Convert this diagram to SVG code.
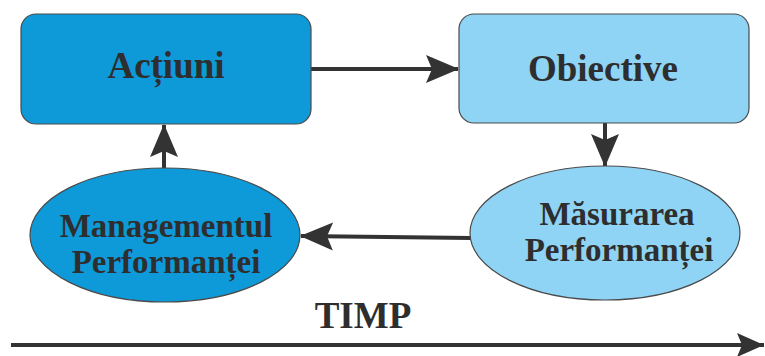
<svg xmlns="http://www.w3.org/2000/svg" width="765" height="356" viewBox="0 0 765 356">
<defs>
<style>
.lbl{font-family:"Liberation Serif","Times New Roman",serif;font-weight:bold;fill:#2e2e2e;text-anchor:middle}
.big{font-size:37px}
.sm{font-size:33px}
.dark{fill:#0e9ad8;stroke:#4a4a4a;stroke-width:1.2}
.light{fill:#8fd4f5;stroke:#4a4a4a;stroke-width:1.2}
.conn{stroke:#333;stroke-width:4;fill:none}
</style>
<marker id="ah" markerUnits="userSpaceOnUse" markerWidth="34" markerHeight="30" refX="32" refY="14" orient="auto" viewBox="0 0 34 28">
<path d="M0,0 L33,14 L0,28 L6,14 z" fill="#333"/>
</marker>
<marker id="ahs" markerUnits="userSpaceOnUse" markerWidth="28" markerHeight="24" refX="27" refY="12" orient="auto" viewBox="0 0 28 24">
<path d="M0,0 L27,12 L0,24 L5,12 z" fill="#333"/>
</marker>
</defs>
<rect width="765" height="356" fill="#fff"/>
<g id="connectors">
<line class="conn" x1="311" y1="69" x2="458" y2="69" marker-end="url(#ah)"/>
<line class="conn" x1="605" y1="123" x2="605" y2="166" marker-end="url(#ah)"/>
<line class="conn" x1="471" y1="238" x2="301" y2="236" marker-end="url(#ah)"/>
<line class="conn" x1="164" y1="168" x2="164" y2="125" marker-end="url(#ah)"/>
</g>
<g id="actiuni">
<rect class="dark" x="21" y="14" width="290" height="110" rx="15"/>
<text class="lbl big" x="166" y="78">Acțiuni</text>
</g>
<g id="obiective">
<rect class="light" x="459" y="14" width="290" height="109" rx="15"/>
<text class="lbl big" x="603" y="81">Obiective</text>
</g>
<g id="masurarea">
<ellipse class="light" cx="605" cy="233" rx="135" ry="67"/>
<text class="lbl sm" x="617" y="225">Măsurarea</text>
<text class="lbl sm" x="619" y="261">Performanței</text>
</g>
<g id="managementul">
<ellipse class="dark" cx="165" cy="235" rx="135" ry="67"/>
<text class="lbl sm" x="166" y="237">Managementul</text>
<text class="lbl sm" x="166" y="273">Performanței</text>
</g>
<g id="timp">
<text class="lbl big" x="363" y="328">TIMP</text>
<line class="conn" x1="11" y1="345" x2="764" y2="345" marker-end="url(#ahs)"/>
</g>
</svg>
